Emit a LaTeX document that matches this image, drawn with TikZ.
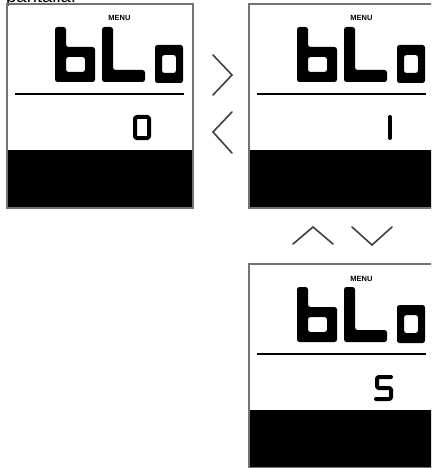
\documentclass[tikz,border=0pt]{standalone}
\usepackage{fontspec}
\setmainfont{Liberation Sans}
\tikzset{
  frame/.style={draw=black!55, line width=1.3pt},
  divider/.style={draw=black, line width=1.5pt},
  glyph/.style={fill=black, even odd rule, rounded corners=2.5pt},
  seg/.style={draw=black, line width=4pt, line cap=round, line join=round, rounded corners=1.5pt},
  chev/.style={draw=black!75, line width=1.6pt, line cap=round, line join=miter},
  menulabel/.style={font=\bfseries\fontsize{7.5}{8}\selectfont, inner sep=0pt, anchor=base},
}
\newcommand{\lcdpanel}[2]{%
  \begin{scope}[shift={(#1)}]
    \fill[black] (7,150) rectangle (193,208);
    \draw[frame] (7,4) rectangle (193,208);
    \draw[divider] (15,94) -- (184,94);
    \node[menulabel] (menu#2) at (119.5,21) {MENU};
    % b
    \path[glyph] (55,27) -- (66,27) -- (66,47) -- (95,47) -- (95,82) -- (55,82) -- cycle
                 (66,57) -- (85,57) -- (85,72) -- (66,72) -- cycle;
    % L
    \path[glyph] (102,27) -- (113,27) -- (113,70) -- (145,70) -- (145,82) -- (102,82) -- cycle;
    % o
    \path[glyph] (155,45) -- (183,45) -- (183,83) -- (155,83) -- cycle
                 (162,55) -- (176,55) -- (176,73) -- (162,73) -- cycle;
  \end{scope}}
\begin{document}
\begin{tikzpicture}[x=1pt,y=-1pt]
\useasboundingbox (0,0) rectangle (431,468);
\clip (0,0) rectangle (431,468);
\fill[white] (0,0) rectangle (431,468);
\node[anchor=base west, inner sep=0pt, font=\fontsize{18.5}{20}\selectfont] (caption) at (6,3) {pantalla:};
% screen 1
\lcdpanel{0,0}{a}
\draw[seg] (135,117) rectangle (149,138);
% screen 2
\lcdpanel{242,0}{b}
\draw[seg] (390,117) -- (390,138);
% screen 3
\lcdpanel{242,260}{c}
\draw[seg] (391,377) -- (377,377) -- (377,388) -- (391,388) -- (391,399) -- (376,399);
% chevrons
\draw[chev] (213,55) -- (232,75) -- (213,95);
\draw[chev] (232,112) -- (213,132) -- (232,153);
\draw[chev] (293,244) -- (313,227) -- (333,244);
\draw[chev] (352,227) -- (372,245) -- (392,227);
\end{tikzpicture}
\end{document}
